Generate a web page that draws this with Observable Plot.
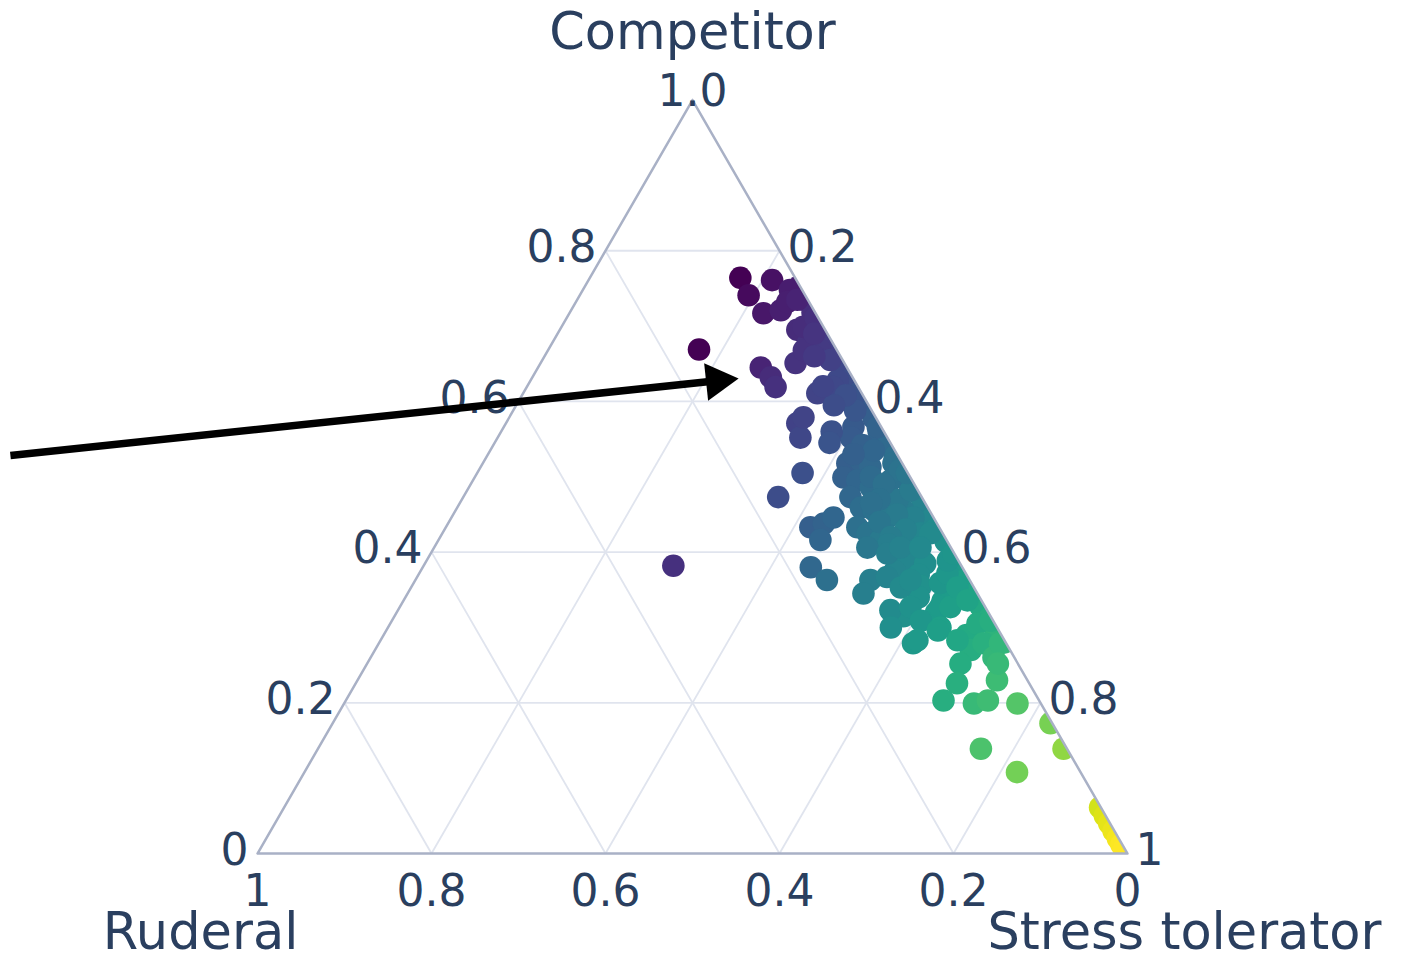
<!DOCTYPE html>
<html>
<head>
<meta charset="utf-8">
<script src="https://cdn.jsdelivr.net/npm/d3@7"></script>
<script src="https://cdn.jsdelivr.net/npm/@observablehq/plot@0.6"></script>
<style>
html,body{margin:0;padding:0;background:#fff;overflow:hidden}
</style>
</head>
<body>
<div id="chart"></div>
<script>
// Ternary values: Competitor (C) and Ruderal (R); Stress tolerator = 1 - C - R
const competitor = [
  0.752,0.735,0.718,0.700,0.684,0.664,0.645,0.628,0.612,0.594,0.578,0.560,0.545,0.527,0.512,0.494,0.478,0.462,0.444,0.430,0.414,0.396,0.380,0.362,0.345,0.328,0.312,0.294,0.280,
  0.764,0.741,0.761,0.717,0.721,0.748,0.732,0.735,0.695,0.677,0.668,0.699,0.645,0.632,0.619,0.651,0.611,0.628,0.602,0.606,0.655,0.711,0.619,0.668,0.669,0.382,
  0.571,0.552,0.579,0.505,0.473,0.566,0.552,0.566,0.518,0.522,0.513,0.499,0.495,0.486,0.473,0.518,0.495,0.509,0.459,0.456,0.446,0.456,0.433,0.438,0.446,0.416,0.433,0.425,0.416,0.469,0.482,0.446,0.425,0.416,0.425,0.505,0.588,0.608,0.542,0.535,
  0.530,0.500,0.490,0.470,0.465,0.450,0.440,0.430,0.420,0.410,0.400,0.390,0.385,0.375,0.370,0.355,0.340,0.335,0.320,0.315,0.290,0.270,0.560,0.545,0.595,0.620,0.690,0.660,
  0.380,0.363,0.406,0.398,0.406,0.406,0.363,0.345,0.367,0.353,0.363,0.323,0.300,0.327,0.309,0.279,0.359,0.372,0.389,0.327,0.327,0.300,0.398,0.353,0.336,0.305,0.283,0.279,
  0.283,0.296,0.309,0.252,0.226,0.203,0.199,0.203,0.260,0.230,0.279,0.199,0.173,0.139,0.108,0.139,0.252,
  0.061,0.050,0.040,0.030,0.020,0.012,0.006
];
const ruderal = [
  0.002,0.005,0.003,0.006,0.002,0.004,0.003,0.006,0.002,0.005,0.003,0.006,0.002,0.004,0.003,0.006,0.002,0.005,0.003,0.006,0.002,0.004,0.003,0.006,0.002,0.005,0.003,0.004,0.002,
  0.063,0.065,0.028,0.060,0.038,0.014,0.025,0.012,0.032,0.029,0.019,0.023,0.099,0.094,0.095,0.056,0.051,0.019,0.029,0.012,0.014,0.003,0.029,0.038,0.158,0.331,
  0.094,0.100,0.083,0.121,0.165,0.032,0.042,0.004,0.063,0.046,0.039,0.077,0.063,0.052,0.082,0.010,0.025,0.007,0.077,0.064,0.053,0.030,0.148,0.130,0.115,0.145,0.094,0.086,0.076,0.030,0.008,0.023,0.025,0.050,0.014,0.001,0.019,0.020,0.034,0.024,
  0.050,0.045,0.035,0.050,0.062,0.040,0.065,0.040,0.062,0.070,0.050,0.060,0.040,0.080,0.055,0.060,0.070,0.045,0.060,0.100,0.040,0.045,0.060,0.070,0.040,0.040,0.015,0.030,
  0.174,0.164,0.096,0.077,0.058,0.035,0.114,0.131,0.093,0.084,0.068,0.111,0.122,0.086,0.083,0.107,0.036,0.021,0.012,0.052,0.040,0.065,0.001,0.019,0.016,0.020,0.054,0.026,
  0.100,0.070,0.003,0.066,0.083,0.110,0.077,0.059,0.024,0.035,0.007,0.027,0.002,0.099,0.073,0.004,0.023,
  0.001,0.001,0.001,0.001,0.001,0.001,0.001
];

const gridTicks = [0.2, 0.4, 0.6, 0.8];
const competitorTicks = [0, 0.2, 0.4, 0.6, 0.8];
const competitorLabels = ["0", "0.2", "0.4", "0.6", "0.8"];
const apexLabel = "1.0";
const ruderalTicks = [1, 0.8, 0.6, 0.4, 0.2, 0];
const ruderalLabels = ["1", "0.8", "0.6", "0.4", "0.2", "0"];
const stressTicks = [0.2, 0.4, 0.6, 0.8, 1];
const stressLabels = ["0.2", "0.4", "0.6", "0.8", "1"];
const axisTitles = ["Competitor", "Ruderal", "Stress tolerator"];

// annotation arrow (cartesian plane of the triangle, side = 1)
const arrowTail = [-0.284, 0.4575];
const arrowTip = [0.553, 0.546];

const SQ = Math.sqrt(3) / 2;
const X = (c, r) => (1 - c - r) + c / 2;
const Y = (c) => c * SQ;

const points = competitor.map((c, i) => ({c, r: ruderal[i], s: 1 - c - ruderal[i]}));

const gridLines = [];
for (const t of gridTicks) {
  gridLines.push({c1: t, r1: 1 - t, c2: t, r2: 0});       // competitor = t
  gridLines.push({c1: 1 - t, r1: t, c2: 0, r2: t});       // ruderal = t
  gridLines.push({c1: 1 - t, r1: 0, c2: 0, r2: 1 - t});   // stress = t
}
const vertices = [{c: 1, r: 0}, {c: 0, r: 1}, {c: 0, r: 0}, {c: 1, r: 0}];

const textColor = "#2a3f5f";
const font = "DejaVu Sans";
const tickSize = 44;
const titleSize = 51;

// arrow head geometry
const ddx = arrowTip[0] - arrowTail[0], ddy = arrowTip[1] - arrowTail[1];
const len = Math.hypot(ddx, ddy);
const ux = ddx / len, uy = ddy / len;
const headR = 14;
const headBack = 2 * headR * Math.sqrt(Math.PI / (3 * Math.sqrt(3))) / 870;
const headCenter = [arrowTip[0] - ux * headBack, arrowTip[1] - uy * headBack];
const headRotate = Math.atan2(-ddy, ddx) * 180 / Math.PI + 90;

const plot = Plot.plot({
  width: 1421,
  height: 961,
  margin: 0,
  x: {domain: [-257 / 870, 1164 / 870], axis: null},
  y: {domain: [-108 / 870, 853 / 870], axis: null},
  color: {type: "linear", scheme: "viridis"},
  style: {background: "#fff"},
  marks: [
    Plot.link(gridLines, {
      x1: d => X(d.c1, d.r1), y1: d => Y(d.c1),
      x2: d => X(d.c2, d.r2), y2: d => Y(d.c2),
      stroke: "#e0e4ee", strokeWidth: 1.8
    }),
    Plot.dot(points, {
      x: d => X(d.c, d.r), y: d => Y(d.c),
      fill: d => d.s, r: 11.3, stroke: "none"
    }),
    Plot.line(vertices, {
      x: d => X(d.c, d.r), y: d => Y(d.c),
      stroke: "#a9b1c6", strokeWidth: 2.5
    }),
    Plot.text(competitorTicks, {
      x: t => X(t, 1 - t), y: t => Y(t),
      text: (t, i) => competitorLabels[i],
      textAnchor: "end", dx: -9, dy: -3,
      fontSize: tickSize, fontFamily: font, fill: textColor
    }),
    Plot.text([apexLabel], {
      x: () => X(1, 0), y: () => Y(1), text: d => d,
      textAnchor: "middle", dy: -8,
      fontSize: tickSize, fontFamily: font, fill: textColor
    }),
    Plot.text(ruderalTicks, {
      x: t => X(0, t), y: () => Y(0),
      text: (t, i) => ruderalLabels[i],
      textAnchor: "middle", dy: 38,
      fontSize: tickSize, fontFamily: font, fill: textColor
    }),
    Plot.text(stressTicks, {
      x: t => X(1 - t, 0), y: t => Y(1 - t),
      text: (t, i) => stressLabels[i],
      textAnchor: "start", dx: 8, dy: -3,
      fontSize: tickSize, fontFamily: font, fill: textColor
    }),
    Plot.text([axisTitles[0]], {
      x: () => X(1, 0), y: () => Y(1), text: d => d,
      textAnchor: "middle", dy: -67,
      fontSize: titleSize, fontFamily: font, fill: textColor
    }),
    Plot.text([axisTitles[1]], {
      x: () => X(0, 1), y: () => Y(0), text: d => d,
      textAnchor: "middle", dx: -57, dy: 79,
      fontSize: titleSize, fontFamily: font, fill: textColor
    }),
    Plot.text([axisTitles[2]], {
      x: () => X(0, 0), y: () => Y(0), text: d => d,
      textAnchor: "middle", dx: 57, dy: 79,
      fontSize: titleSize, fontFamily: font, fill: textColor
    }),
    Plot.link([0], {
      x1: () => arrowTail[0], y1: () => arrowTail[1],
      x2: () => headCenter[0], y2: () => headCenter[1],
      stroke: "#000", strokeWidth: 7.5
    }),
    Plot.dot([0], {
      x: () => headCenter[0], y: () => headCenter[1],
      symbol: "triangle", r: headR, fill: "#000", stroke: "none",
      rotate: headRotate
    })
  ]
});

document.getElementById("chart").appendChild(plot);

// clip the data points to the triangle, like the ternary plot area
const xs = plot.scale("x"), ys = plot.scale("y");
const ns = "http://www.w3.org/2000/svg";
const defs = document.createElementNS(ns, "defs");
const cp = document.createElementNS(ns, "clipPath");
cp.setAttribute("id", "tri-clip");
const poly = document.createElementNS(ns, "polygon");
poly.setAttribute("points", vertices.slice(0, 3).map(v => `${xs.apply(X(v.c, v.r))},${ys.apply(Y(v.c))}`).join(" "));
cp.appendChild(poly);
defs.appendChild(cp);
plot.insertBefore(defs, plot.firstChild);
const dotGroup = plot.querySelector('g[aria-label="dot"]');
if (dotGroup) dotGroup.setAttribute("clip-path", "url(#tri-clip)");
</script>
</body>
</html>
